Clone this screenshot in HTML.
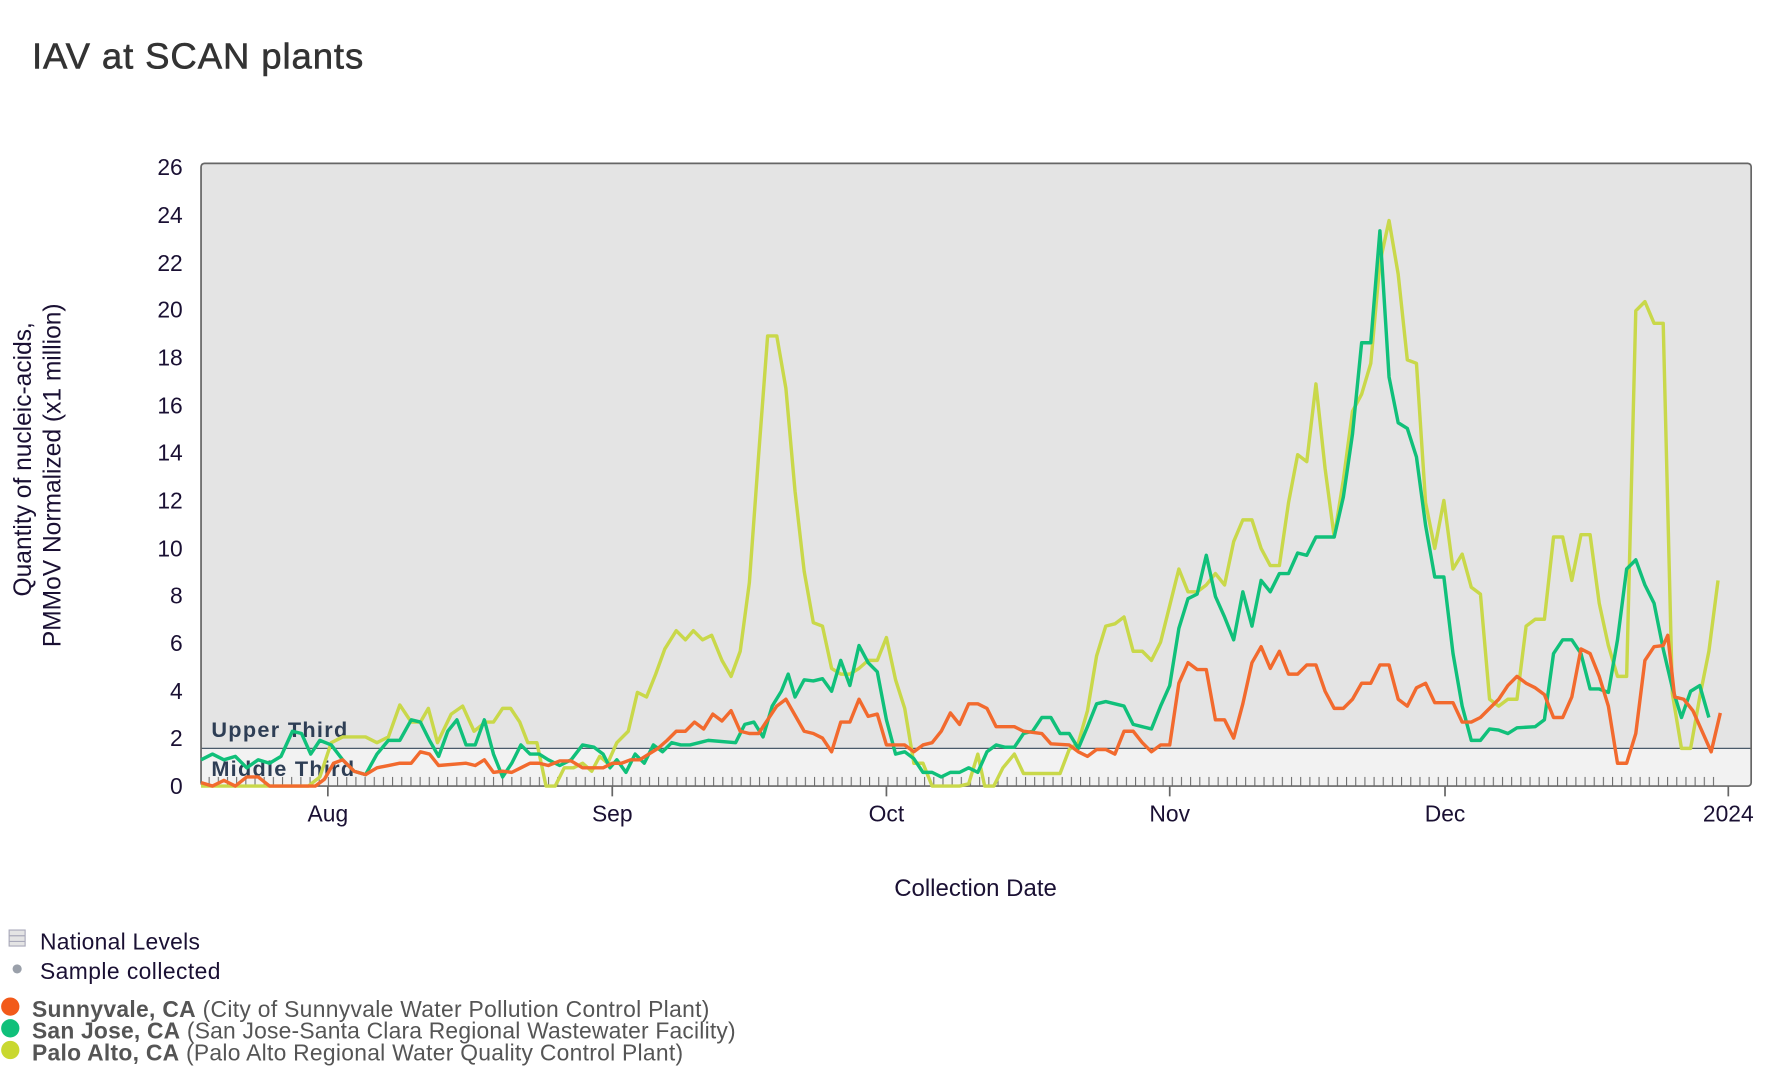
<!DOCTYPE html>
<html><head><meta charset="utf-8"><style>
html,body{margin:0;padding:0;background:#fff;}
svg{display:block;font-family:"Liberation Sans",sans-serif;}
</style></head><body>
<svg width="1782" height="1074" viewBox="0 0 1560 940" preserveAspectRatio="none" xmlns="http://www.w3.org/2000/svg">
<defs>
<pattern id="tk" patternUnits="userSpaceOnUse" x="182.6" y="0" width="8.03" height="940">
<line x1="0.5" y1="0" x2="0.5" y2="940" stroke="#666" stroke-width="0.9"/>
</pattern>
</defs>
<text x="28" y="60" font-size="32" fill="#333" stroke="#333" stroke-width="0.5" textLength="290">IAV at SCAN plants</text>
<rect x="176" y="143" width="1357" height="512" fill="#e4e4e4"/>
<rect x="176" y="655" width="1357" height="33" fill="#f2f2f2"/>
<line x1="176" y1="655" x2="1533" y2="655" stroke="#4a5a6a" stroke-width="1"/>
<rect x="176" y="680" width="1330" height="8" fill="url(#tk)"/>
<rect x="176" y="143" width="1357" height="545" rx="3" fill="none" stroke="#666" stroke-width="1.5"/>
<text x="185" y="645" font-size="19" font-weight="bold" fill="#2e3e55" textLength="119">Upper Third</text>
<text x="185" y="679" font-size="19" font-weight="bold" fill="#2e3e55" textLength="125">Middle Third</text>
<g font-size="20" fill="#1a1033" text-anchor="end">
<text x="160" y="695">0</text><text x="160" y="653">2</text><text x="160" y="612">4</text><text x="160" y="570">6</text><text x="160" y="528">8</text><text x="160" y="487">10</text><text x="160" y="445">12</text><text x="160" y="403">14</text><text x="160" y="362">16</text><text x="160" y="320">18</text><text x="160" y="278">20</text><text x="160" y="237">22</text><text x="160" y="195">24</text><text x="160" y="153">26</text>
</g>
<g stroke="#666" stroke-width="1.5">
<line x1="287" y1="688" x2="287" y2="697"/><line x1="536" y1="688" x2="536" y2="697"/><line x1="776" y1="688" x2="776" y2="697"/><line x1="1024" y1="688" x2="1024" y2="697"/><line x1="1265" y1="688" x2="1265" y2="697"/><line x1="1513" y1="688" x2="1513" y2="697"/>
</g>
<g font-size="20" fill="#1a1033" text-anchor="middle">
<text x="287" y="719">Aug</text><text x="536" y="719">Sep</text><text x="776" y="719">Oct</text><text x="1024" y="719">Nov</text><text x="1265" y="719">Dec</text><text x="1513" y="719">2024</text>
</g>
<text x="854" y="784" font-size="21" fill="#1a1033" text-anchor="middle">Collection Date</text>
<g font-size="21.5" fill="#1a1033" text-anchor="middle">
<text transform="translate(27,402) rotate(-90)">Quantity of nucleic-acids,</text>
<text transform="translate(53,416) rotate(-90)">PMMoV Normalized (x1 million)</text>
</g>
<g fill="none" stroke-width="3" stroke-linejoin="round">
<polyline stroke="#c9d84a" points="176,688 270,688 280,680 290,650 300,645 320,645 330,650 340,645 350,617 360,632 368,632 375,620 383,650 395,625 405,618 415,640 425,632 432,632 440,620 447,620 455,632 462,650 470,650 478,688 486,688 494,672 502,672 510,668 518,675 525,662 532,668 540,650 550,640 558,606 566,610 574,590 582,568 592,552 600,560 607,552 615,560 623,556 632,578 640,592 648,570 656,510 664,400 672,294 680,294 688,340 696,430 704,500 712,545 720,548 728,585 736,590 744,590 752,585 760,578 768,578 776,558 784,595 792,620 800,668 808,668 816,688 840,688 848,686 856,660 862,688 870,688 878,672 888,660 896,677 928,677 936,656 944,650 952,622 960,574 968,548 976,546 984,540 992,570 1000,570 1008,578 1016,562 1024,530 1032,498 1040,518 1048,518 1056,512 1064,502 1072,512 1080,474 1088,455 1096,455 1104,480 1112,495 1120,495 1128,440 1136,398 1144,404 1152,336 1160,410 1168,470 1176,420 1184,360 1192,345 1200,318 1208,230 1216,193 1224,240 1232,315 1240,318 1248,440 1256,480 1264,438 1272,498 1280,485 1288,514 1296,520 1304,612 1312,618 1320,612 1328,612 1336,548 1344,542 1352,542 1360,470 1368,470 1376,508 1384,468 1392,468 1400,528 1408,565 1416,592 1424,592 1432,272 1440,264 1448,283 1456,283 1464,607 1472,655 1480,655 1488,610 1496,570 1504,508"/>
<polyline stroke="#10c07a" points="176,665 186,660 196,665 206,662 216,672 226,665 236,668 246,662 256,640 264,642 272,660 280,648 290,652 300,665 310,675 320,678 330,660 340,648 350,648 360,630 368,632 376,648 384,662 392,640 400,630 408,652 416,652 424,630 432,660 440,680 448,668 456,652 464,660 472,660 480,665 490,670 500,665 510,652 520,654 528,660 534,672 540,665 548,676 556,660 564,668 572,652 580,658 588,650 596,652 604,652 612,650 620,648 644,650 652,634 660,632 668,645 676,618 684,605 690,590 696,610 704,595 712,596 720,594 728,605 736,578 744,600 752,565 760,580 768,588 776,630 784,660 792,658 800,664 808,676 816,676 824,680 832,676 840,676 848,672 856,676 864,658 872,652 880,654 888,654 896,642 904,640 912,628 920,628 928,642 936,642 944,655 952,636 960,616 968,614 976,616 984,618 992,634 1000,636 1008,638 1016,618 1024,600 1032,550 1040,524 1048,520 1056,486 1064,522 1072,540 1080,560 1088,518 1096,548 1104,508 1112,518 1120,502 1128,502 1136,484 1144,486 1152,470 1168,470 1176,435 1184,380 1192,300 1200,300 1208,202 1216,330 1224,370 1232,375 1240,400 1248,460 1256,505 1264,505 1272,572 1280,618 1288,648 1296,648 1304,638 1312,639 1320,642 1328,637 1344,636 1352,630 1360,572 1368,560 1376,560 1384,572 1392,603 1400,603 1408,606 1416,560 1424,498 1432,490 1440,512 1448,528 1456,568 1464,602 1472,628 1480,605 1488,600 1496,628"/>
<polyline stroke="#f26a2e" points="176,685 186,688 196,683 206,688 216,680 226,680 236,688 276,688 284,682 292,668 300,665 310,675 320,678 330,672 340,670 350,668 360,668 368,658 376,660 384,670 408,668 416,670 424,665 432,676 440,675 448,676 456,672 464,668 472,668 480,670 490,666 500,666 510,672 528,672 536,668 544,668 552,665 560,665 568,660 576,655 584,648 592,640 600,640 608,632 616,638 624,625 632,631 640,622 648,640 656,642 664,642 672,630 680,618 688,612 696,626 704,640 712,642 720,646 728,658 736,632 744,632 752,612 760,627 768,625 776,652 784,652 792,652 800,658 808,652 816,650 824,640 832,624 840,634 848,616 856,616 864,620 872,636 888,636 896,640 912,642 920,651 936,652 944,658 952,662 960,656 968,656 976,660 984,640 992,640 1000,650 1008,658 1016,652 1024,652 1032,598 1040,580 1048,586 1056,586 1064,630 1072,630 1080,646 1088,616 1096,580 1104,566 1112,585 1120,570 1128,590 1136,590 1144,582 1152,582 1160,605 1168,620 1176,620 1184,612 1192,598 1200,598 1208,582 1216,582 1224,612 1232,618 1240,602 1248,598 1256,615 1272,615 1280,632 1288,632 1296,628 1304,620 1312,612 1320,600 1328,592 1336,598 1344,602 1352,608 1360,628 1368,628 1376,610 1384,568 1392,572 1400,592 1408,618 1416,668 1424,668 1432,642 1440,578 1448,566 1456,565 1460,556 1466,610 1474,612 1482,622 1490,640 1498,658 1506,624"/>
</g>
<rect x="8" y="814" width="14" height="14" fill="#e4e4e4" stroke="#aab" stroke-width="1"/>
<line x1="8" y1="819" x2="22" y2="819" stroke="#aab"/><line x1="8" y1="824" x2="22" y2="824" stroke="#aab"/>
<text x="35" y="831" font-size="20" fill="#1a1033" textLength="140">National Levels</text>
<circle cx="15" cy="848" r="4" fill="#9aa0aa"/>
<text x="35" y="857" font-size="20" fill="#1a1033" textLength="158">Sample collected</text>
<circle cx="9" cy="881" r="8" fill="#f25a1a"/>
<circle cx="9" cy="900" r="8" fill="#10c07a"/>
<circle cx="9" cy="919" r="8" fill="#c9d830"/>
<g font-size="20" fill="#555">
<text x="28" y="890" textLength="593"><tspan font-weight="bold">Sunnyvale, CA</tspan> (City of Sunnyvale Water Pollution Control Plant)</text>
<text x="28" y="909" textLength="616"><tspan font-weight="bold">San Jose, CA</tspan> (San Jose-Santa Clara Regional Wastewater Facility)</text>
<text x="28" y="928" textLength="570"><tspan font-weight="bold">Palo Alto, CA</tspan> (Palo Alto Regional Water Quality Control Plant)</text>
</g>
</svg>
</body></html>
